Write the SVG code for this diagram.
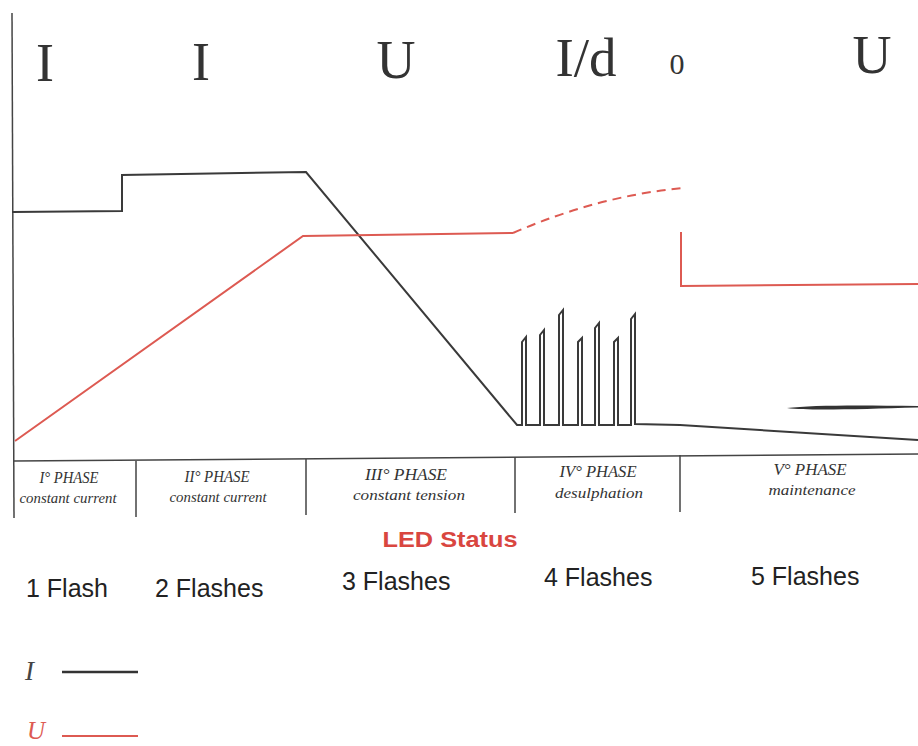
<svg xmlns="http://www.w3.org/2000/svg" width="918" height="746" viewBox="0 0 918 746">
<style>
.big{font-family:"Liberation Serif","Times New Roman",serif;fill:#333;text-anchor:middle}
.ph{font-family:"Liberation Serif","Times New Roman",serif;font-style:italic;fill:#333;text-anchor:middle}
.fl{font-family:"Liberation Sans",Arial,sans-serif;font-size:25px;fill:#222}
.ax{stroke:#444;stroke-width:1.5;fill:none}
.cur{stroke:#3a3a3a;stroke-width:2;fill:none;stroke-linejoin:miter}
.vol{stroke:#dd5a52;stroke-width:2;fill:none}
</style>
<rect width="918" height="746" fill="#fff"/>
<g id="mode-labels">
<text class="big" x="45" y="81" font-size="54">I</text>
<text class="big" x="201" y="80" font-size="54">I</text>
<text class="big" x="396" y="78" font-size="54">U</text>
<text class="big" x="586" y="76" font-size="55">I/d</text>
<text class="big" x="677" y="74" font-size="30">0</text>
<text class="big" x="872" y="73" font-size="54">U</text>
</g>
<g id="axes">
<path class="ax" d="M12,13 L14,518"/>
<path class="ax" d="M14,461 L918,454"/>
<path class="ax" d="M136,461 V517 M306,459 V515 M515,457 V513 M680,455 V512"/>
</g>
<g id="current-curve">
<path class="cur" d="M12,212 L122,211 V175 L306,172 L517,425 H522 V342 L526,337 V425 H540 V335 L544,330 V425 H559 V315 L563,310 V425 H578 V342 L582,338 V425 H595 V328 L599,323 V425 H614 V342 L618,338 V425 H631 V319 L635,314 V424 L680,425 L918,440"/>
<path d="M787,408 C810,405 860,405 918,406 L918,407.5 C860,409 810,411 787,408 Z" fill="#333"/>
</g>
<g id="voltage-curve">
<path class="vol" d="M15,441 L303,236 L513,233"/>
<path class="vol" d="M513,233 Q598,196 683,188" stroke-dasharray="9,6"/>
<path class="vol" d="M681,232 V286 L918,284"/>
</g>
<g id="phases">
<text class="ph" x="69" y="483" font-size="16" textLength="59" lengthAdjust="spacingAndGlyphs">I° PHASE</text>
<text class="ph" x="68" y="503" font-size="15" textLength="97" lengthAdjust="spacingAndGlyphs">constant current</text>
<text class="ph" x="217" y="482" font-size="16" textLength="65" lengthAdjust="spacingAndGlyphs">II° PHASE</text>
<text class="ph" x="218" y="502" font-size="15" textLength="97" lengthAdjust="spacingAndGlyphs">constant current</text>
<text class="ph" x="406" y="480" font-size="16" textLength="82" lengthAdjust="spacingAndGlyphs">III° PHASE</text>
<text class="ph" x="409" y="500" font-size="15" textLength="112" lengthAdjust="spacingAndGlyphs">constant tension</text>
<text class="ph" x="598" y="477" font-size="16" textLength="77" lengthAdjust="spacingAndGlyphs">IV° PHASE</text>
<text class="ph" x="599" y="498" font-size="15" textLength="88" lengthAdjust="spacingAndGlyphs">desulphation</text>
<text class="ph" x="810" y="475" font-size="16" textLength="73" lengthAdjust="spacingAndGlyphs">V° PHASE</text>
<text class="ph" x="812" y="495" font-size="15" textLength="87" lengthAdjust="spacingAndGlyphs">maintenance</text>
</g>
<g id="led-status">
<text x="450" y="547" font-family="Liberation Sans,Arial,sans-serif" font-weight="bold" font-size="22" fill="#d9463f" text-anchor="middle" textLength="135" lengthAdjust="spacingAndGlyphs">LED Status</text>
<text class="fl" x="26" y="597">1 Flash</text>
<text class="fl" x="155" y="597">2 Flashes</text>
<text class="fl" x="342" y="590">3 Flashes</text>
<text class="fl" x="544" y="586">4 Flashes</text>
<text class="fl" x="751" y="585">5 Flashes</text>
</g>
<g id="legend">
<text x="25" y="680" font-family="Liberation Serif,Times New Roman,serif" font-style="italic" font-size="27" fill="#444">I</text>
<line x1="62" y1="672" x2="138" y2="672" stroke="#333" stroke-width="2.5"/>
<text x="27" y="739" font-family="Liberation Serif,Times New Roman,serif" font-style="italic" font-size="25" fill="#dd5a52">U</text>
<line x1="62" y1="736" x2="138" y2="736" stroke="#dd5a52" stroke-width="2"/>
</g>
</svg>
